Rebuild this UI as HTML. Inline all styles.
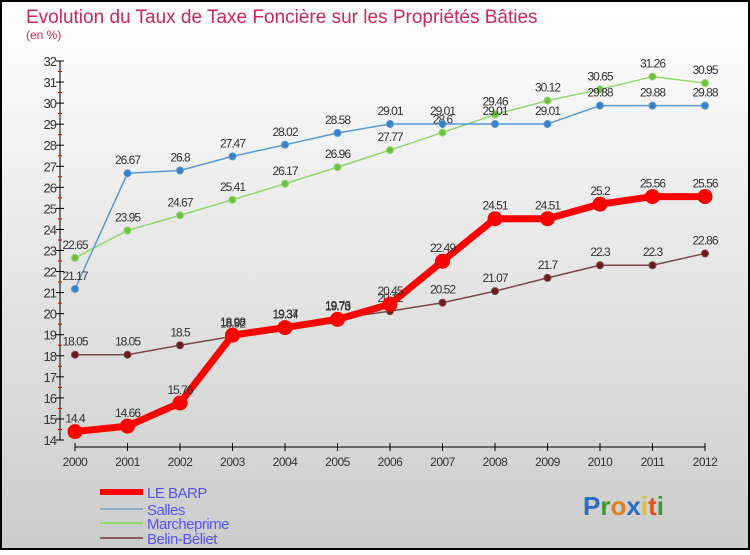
<!DOCTYPE html>
<html><head><meta charset="utf-8"><style>
body{margin:0}
#c{width:750px;height:550px;position:relative;font-family:"Liberation Sans",sans-serif}
</style></head><body>
<div id="c">
<svg id="s" width="750" height="550" xmlns="http://www.w3.org/2000/svg">
<defs><linearGradient id="bg" x1="0" y1="0" x2="0" y2="1"><stop offset="0" stop-color="#ffffff"/><stop offset="1" stop-color="#cccccc"/></linearGradient></defs>
<rect x="1" y="1" width="748" height="548" fill="url(#bg)" stroke="#000" stroke-width="2"/>
<text x="26" y="23" font-size="19" fill="#c8285a">Evolution du Taux de Taxe Foncière sur les Propriétés Bâties</text>
<text x="26" y="39" font-size="12" fill="#c8285a">(en %)</text>
<g id="axes"></g><g id="series"></g><g id="legend"></g>
<text x="583" y="515" font-size="26" font-weight="bold"><tspan fill="#2a6fc0">P</tspan><tspan fill="#3a9a30">r</tspan><tspan fill="#e08020">o</tspan><tspan fill="#2a6fc0">x</tspan><tspan fill="#e8c020">i</tspan><tspan fill="#e05020">t</tspan><tspan fill="#3a9a30">i</tspan></text>
</svg></div>
<script>
const years=[2000,2001,2002,2003,2004,2005,2006,2007,2008,2009,2010,2011,2012];
const yTicks=[14,15,16,17,18,19,20,21,22,23,24,25,26,27,28,29,30,31,32];
const leBarp=[14.4,14.66,15.76,18.98,19.34,19.73,20.45,22.49,24.51,24.51,25.2,25.56,25.56];
const salles=[21.17,26.67,26.8,27.47,28.02,28.58,29.01,29.01,29.01,29.01,29.88,29.88,29.88];
const marcheprime=[22.65,23.95,24.67,25.41,26.17,26.96,27.77,28.6,29.46,30.12,30.65,31.26,30.95];
const belin=[18.05,18.05,18.5,18.92,19.37,19.76,20.12,20.52,21.07,21.7,22.3,22.3,22.86];
const NS="http://www.w3.org/2000/svg";
const X=i=>75+i*52.5, Y=v=>440-(v-14)*(379/18);
function mk(t,a,p){const e=document.createElementNS(NS,t);for(const k in a)e.setAttribute(k,a[k]);p.appendChild(e);return e;}
const ax=document.getElementById('axes');
let l=mk('line',{x1:60,y1:Y(32),x2:60,y2:Y(14),stroke:'#000'},ax);


yTicks.forEach(v=>{
 mk('line',{x1:56,x2:64,y1:Y(v),y2:Y(v),stroke:'#000'},ax);
 if(v<32)mk('line',{x1:58,x2:62,y1:Y(v+0.5),y2:Y(v+0.5),stroke:'#e00000'},ax);
 const t=mk('text',{x:56,y:Y(v)+5,'text-anchor':'end','font-size':13,fill:'#333','letter-spacing':'-1'},ax);t.textContent=v;
 
 
});
l=mk('line',{x1:X(0),y1:447,x2:X(12),y2:447,stroke:'#000'},ax);


years.forEach((y,i)=>{
 mk('line',{x1:X(i),x2:X(i),y1:443,y2:451,stroke:'#000'},ax);
 const t=mk('text',{x:X(i),y:466,'text-anchor':'middle','font-size':12,fill:'#333','letter-spacing':'-0.5'},ax);t.textContent=y;
 
 
});
const sg=document.getElementById('series');
function fmt(v){return String(Math.round(v*100)/100);}
function series(vals,name,col,w,r,mcol){
 const g=mk('g',{},sg);
 
 
 mk('polyline',{points:vals.map((v,i)=>X(i)+','+Y(v)).join(' '),fill:'none',stroke:col,'stroke-width':w,'stroke-linejoin':'round'},g);
 vals.forEach((v,i)=>{
  const c=mk('circle',{cx:X(i),cy:Y(v),r:r,fill:mcol,stroke:col,'stroke-width':1},g);
  
  
  const t=mk('text',{x:X(i),y:Y(v)-9,'text-anchor':'middle','font-size':12,fill:'#333','letter-spacing':'-1'},g);t.textContent=fmt(v);
  
  
 });
}
series(belin,'belin-beliet','#7a4a4a',1.5,3.5,'#6a1a1a');
series(marcheprime,'marcheprime','#90d870',1.5,3.5,'#70c040');
series(salles,'salles','#5a9ad0',1.5,3.5,'#3a80c8');
series(leBarp,'le-barp','#ff0000',7,7,'#ff0000');
const lg=document.getElementById('legend');
[['LE BARP','#ff0000',6,492],['Salles','#8ab0cc',2,509],['Marcheprime','#90d870',2,523],['Belin-Béliet','#8a6060',2,538]].forEach(([n,c,w,y])=>{
 const g=mk('g',{},lg);
 
 
 mk('line',{x1:100,x2:143,y1:y,y2:y,stroke:c,'stroke-width':w},g);
 const t=mk('text',{x:147,y:y+6,'font-size':15,fill:'#5555ee','letter-spacing':'-0.5'},g);t.textContent=n;
});
</script>
</body></html>
